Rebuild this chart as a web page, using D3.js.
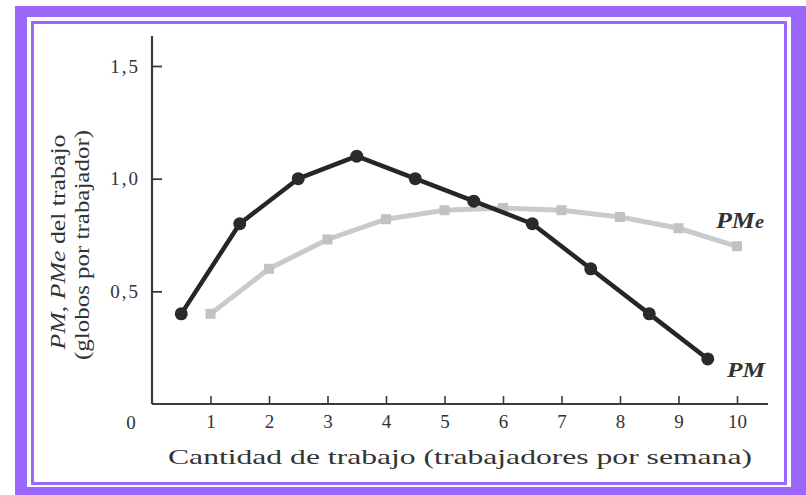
<!DOCTYPE html>
<html>
<head>
<meta charset="utf-8">
<script src="https://cdn.jsdelivr.net/npm/d3@7"></script>
<style>
  body { margin: 0; background: #fff; }
  svg text { font-family: "Liberation Serif", "DejaVu Serif", serif; fill: #333; }
</style>
</head>
<body>
<div id="vis"></div>
<script>
const FRAME_WIDTH = 806;
const FRAME_HEIGHT = 495;

// data
const pmX = [0.5, 1.5, 2.5, 3.5, 4.5, 5.5, 6.5, 7.5, 8.5, 9.5];
const pmValues = [0.40, 0.80, 1.00, 1.10, 1.00, 0.90, 0.80, 0.60, 0.40, 0.20];
const pmeX = [1, 2, 3, 4, 5, 6, 7, 8, 9, 10];
const pmeValues = [0.40, 0.60, 0.73, 0.82, 0.86, 0.87, 0.86, 0.83, 0.78, 0.70];
const xTicks = [1, 2, 3, 4, 5, 6, 7, 8, 9, 10];
const yTicks = [0.5, 1.0, 1.5];

const PURPLE = '#9b68fb';

const FRAME = d3.select('#vis')
    .append('svg')
        .attr('width', FRAME_WIDTH)
        .attr('height', FRAME_HEIGHT);

// purple double border
FRAME.append('rect')
    .attr('x', 15).attr('y', 6)
    .attr('width', 791).attr('height', 489)
    .attr('fill', PURPLE);
FRAME.append('rect')
    .attr('x', 27).attr('y', 17)
    .attr('width', 764).attr('height', 470)
    .attr('fill', '#fff');
FRAME.append('rect')
    .attr('x', 32.5).attr('y', 22.5)
    .attr('width', 753).attr('height', 461)
    .attr('fill', '#fff')
    .attr('stroke', PURPLE)
    .attr('stroke-width', 3);

// scales
const X_SCALE = d3.scaleLinear().domain([0, 10]).range([152, 737]);
const Y_SCALE = d3.scaleLinear().domain([0, 1.5]).range([404, 66]);

const fmt = d => d3.format('.1f')(d).replace('.', ',');

// axis lines drawn by hand so they run past the last tick
FRAME.append('line')
    .attr('x1', X_SCALE(0)).attr('x2', X_SCALE(0))
    .attr('y1', 36).attr('y2', Y_SCALE(0))
    .attr('stroke', '#3a3a3a').attr('stroke-width', 2.2);
FRAME.append('line')
    .attr('x1', X_SCALE(0)).attr('x2', 768)
    .attr('y1', Y_SCALE(0)).attr('y2', Y_SCALE(0))
    .attr('stroke', '#3a3a3a').attr('stroke-width', 2.2);

// y axis
const yAxis = FRAME.append('g')
    .attr('transform', 'translate(' + X_SCALE(0) + ',0)')
    .call(d3.axisLeft(Y_SCALE).tickValues(yTicks).tickFormat(fmt)
        .tickSize(-10).tickPadding(12).tickSizeOuter(0));
yAxis.select('.domain').remove();
yAxis.selectAll('line').attr('stroke', '#3a3a3a').attr('stroke-width', 1.8);
yAxis.selectAll('text')
    .attr('font-family', '"Liberation Serif", serif')
    .attr('font-size', '19px')
    .attr('letter-spacing', '2px')
    .attr('fill', '#3a3a3a');

// x axis
const xAxis = FRAME.append('g')
    .attr('transform', 'translate(0,' + Y_SCALE(0) + ')')
    .call(d3.axisBottom(X_SCALE).tickValues(xTicks)
        .tickSize(-8).tickPadding(11).tickSizeOuter(0));
xAxis.select('.domain').remove();
xAxis.selectAll('line').attr('stroke', '#3a3a3a').attr('stroke-width', 1.6);
xAxis.selectAll('text')
    .attr('font-family', '"Liberation Serif", serif')
    .attr('font-size', '19px')
    .attr('fill', '#3a3a3a');

// origin label
FRAME.append('text')
    .attr('x', X_SCALE(0) - 21)
    .attr('y', Y_SCALE(0) + 25)
    .attr('text-anchor', 'middle')
    .attr('font-size', '19px')
    .text('0');

// x axis title
FRAME.append('text')
    .attr('x', 460)
    .attr('y', 464)
    .attr('text-anchor', 'middle')
    .attr('font-size', '21px')
    .attr('textLength', 584)
    .attr('lengthAdjust', 'spacingAndGlyphs')
    .text('Cantidad de trabajo (trabajadores por semana)');

// y axis title, two lines
const yTitle1 = FRAME.append('text')
    .attr('transform', 'translate(65,242) rotate(-90)')
    .attr('text-anchor', 'middle')
    .attr('font-size', '20px')
    .attr('textLength', 215)
    .attr('lengthAdjust', 'spacingAndGlyphs');
yTitle1.append('tspan').attr('font-style', 'italic').text('PM');
yTitle1.append('tspan').text(', ');
yTitle1.append('tspan').attr('font-style', 'italic').text('PMe');
yTitle1.append('tspan').text(' del trabajo');

FRAME.append('text')
    .attr('transform', 'translate(89,245) rotate(-90)')
    .attr('text-anchor', 'middle')
    .attr('font-size', '20px')
    .attr('textLength', 230)
    .attr('lengthAdjust', 'spacingAndGlyphs')
    .text('(globos por trabajador)');

// PMe line (grey)
const pmeData = pmeX.map((x, i) => ({x: x, y: pmeValues[i]}));
const pmData = pmX.map((x, i) => ({x: x, y: pmValues[i]}));

const line = d3.line()
    .x(d => X_SCALE(d.x))
    .y(d => Y_SCALE(d.y));

FRAME.append('path')
    .datum(pmeData)
    .attr('d', line)
    .attr('fill', 'none')
    .attr('stroke', '#cacaca')
    .attr('stroke-width', 5)
    .attr('stroke-linejoin', 'round');

FRAME.selectAll('.pme-pt')
    .data(pmeData)
    .enter()
    .append('rect')
        .attr('class', 'pme-pt')
        .attr('x', d => X_SCALE(d.x) - 5)
        .attr('y', d => Y_SCALE(d.y) - 5)
        .attr('width', 10)
        .attr('height', 10)
        .attr('fill', '#c2c2c2');

// PM line (black)
FRAME.append('path')
    .datum(pmData)
    .attr('d', line)
    .attr('fill', 'none')
    .attr('stroke', '#262626')
    .attr('stroke-width', 4.5)
    .attr('stroke-linejoin', 'round');

FRAME.selectAll('.pm-pt')
    .data(pmData)
    .enter()
    .append('circle')
        .attr('class', 'pm-pt')
        .attr('cx', d => X_SCALE(d.x))
        .attr('cy', d => Y_SCALE(d.y))
        .attr('r', 6.5)
        .attr('fill', '#2a2a2a');

// curve labels
const pmeLabel = FRAME.append('text')
    .attr('x', 716)
    .attr('y', 228)
    .attr('font-size', '23px')
    .attr('font-weight', 'bold')
    .attr('font-style', 'italic')
    .attr('textLength', 48)
    .attr('lengthAdjust', 'spacingAndGlyphs')
    .text('PM');
pmeLabel.append('tspan').attr('font-size', '18px').text('e');

FRAME.append('text')
    .attr('x', 727)
    .attr('y', 377)
    .attr('font-size', '21px')
    .attr('font-weight', 'bold')
    .attr('font-style', 'italic')
    .attr('textLength', 38)
    .attr('lengthAdjust', 'spacingAndGlyphs')
    .text('PM');
</script>
</body>
</html>
